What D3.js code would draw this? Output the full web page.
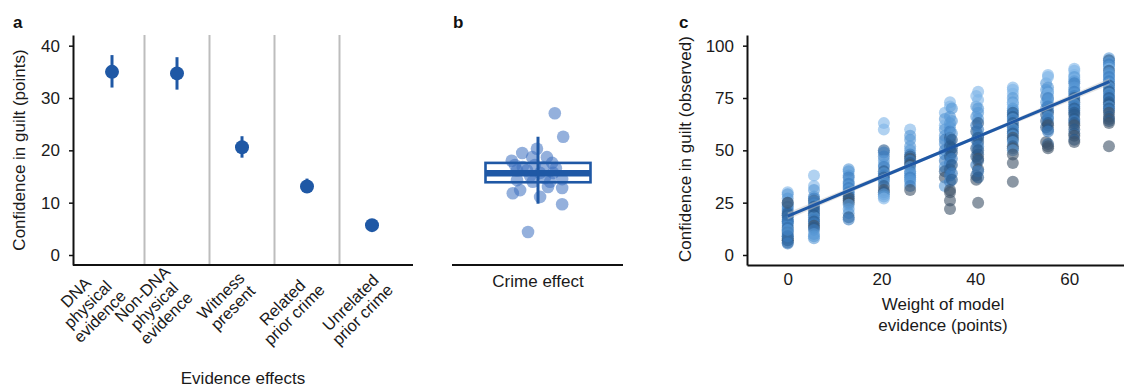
<!DOCTYPE html>
<html><head><meta charset="utf-8">
<script src="https://cdn.jsdelivr.net/npm/d3@7"></script>
<style>
body{margin:0;background:#fff}
svg{display:block;font-family:"Liberation Sans",Arial,Helvetica,sans-serif}
</style></head><body>
<svg id="chart" width="1124" height="387"></svg>
<script>
// ---------- Panel a: evidence effects ----------
const evidenceCategories = ["DNA\nphysical\nevidence", "Non-DNA\nphysical\nevidence", "Witness\npresent", "Related\nprior crime", "Unrelated\nprior crime"];
const evidenceMeans = [35.0, 34.7, 20.6, 13.1, 5.7];
const evidenceLow   = [32.0, 31.6, 18.6, 12.0, 5.0];
const evidenceHigh  = [38.2, 37.8, 22.7, 14.6, 6.4];
const effectTicks = [0, 10, 20, 30, 40];

// ---------- Panel b: crime effect ----------
const crimeJitter = [0.32,0.48,-0.19,0.46,0.46,0.46,-0.30,-0.02,-0.50,0.17,0.27,-0.48,-0.34,0.04,0.19,-0.10,-0.40,-0.21,0.10,0.29,-0.11,-0.29,-0.40,0.04,0.23,-0.15,0.13,-0.44,-0.06,0.34];
const crimeValues = [27.1,22.6,4.4,9.7,12.8,14.5,19.5,20.3,18.0,18.7,17.6,11.8,12.4,11.1,13.0,14.0,14.3,16.2,16.8,15.7,18.7,16.8,16.2,15.7,14.0,15.1,14.7,17.2,17.2,16.6];
const crimeBox = [13.9, 15.6, 17.6];   // q1, median, q3
const crimeCI = [9.8, 22.6];

// ---------- Panel c: model weight vs observed ----------
const modelWeights = [0, 5.6, 13, 20.5, 26.1, 33.5, 34.6, 35, 40.2, 40.6, 48, 55.1, 55.5, 61.1, 68.5];
// [observed confidence, shade group]
const observedByWeight = [
  [[30,0],[29,1],[27,1],[25,2],[24,1],[23,2],[22,1],[21,2],[20,3],[19,2],[18,1],[17,2],[16,3],[15,2],[14,1],[13,3],[12,2],[11,3],[10,2],[9,3],[8,3],[7,3],[7,4],[6,3],[5.5,2],[19,3],[16,2],[12,1],[9,2],[25,4]],
  [[38,0],[33,0],[31,1],[28,1],[26,4],[25,2],[24,1],[22,2],[21,3],[20,2],[19,3],[18,1],[17,2],[16,3],[15,2],[14,4],[13,3],[12,2],[10,1],[9,1],[8,1],[27,2],[23,3]],
  [[41,1],[40,1],[38,1],[37,2],[35,1],[34,2],[33,1],[32,2],[31,1],[30,2],[29,1],[28,3],[27,4],[26,3],[25,4],[24,1],[22,1],[20,1],[18,3],[17,2]],
  [[63,0],[60,0],[50,3],[49,2],[47,2],[45,1],[43,1],[42,2],[40,3],[39,1],[38,2],[37,3],[36,2],[35,1],[33,3],[31,4],[30,3],[29,1],[28,1],[27,0]],
  [[60,0],[57,1],[55,1],[52,1],[50,1],[48,2],[47,3],[46,4],[45,2],[44,3],[43,4],[42,1],[40,2],[39,1],[38,1],[37,2],[36,1],[35,1],[33,2],[31,4]],
  [[68,0],[65,1],[62,0],[60,1],[57,1],[55,2],[53,1],[50,2],[48,1],[45,2],[42,1],[40,3],[37,4],[33,1]],
  [[73,0],[71,0],[66,1],[63,1],[61,1],[59,2],[56,3],[54,2],[52,3],[50,2],[47,3],[44,2],[41,3],[38,2],[35,2],[31,4],[30,4],[26,4],[22,4]],
  [[70,1],[64,1],[58,1],[55,3],[51,3],[49,3],[46,2],[43,3],[39,2],[36,3]],
  [[76,0],[71,1],[66,1],[62,2],[59,3],[55,2],[51,3],[47,3],[43,2],[38,3],[36,4]],
  [[78,0],[74,0],[70,1],[68,1],[65,1],[63,3],[60,2],[57,2],[56,3],[54,3],[52,2],[50,3],[48,3],[46,4],[45,3],[41,4],[40,2],[37,3],[25,4]],
  [[80,0],[79,0],[77,0],[75,1],[73,1],[72,0],[70,1],[69,1],[68,3],[67,2],[66,3],[65,1],[64,2],[63,3],[62,2],[61,3],[60,1],[59,2],[58,3],[57,1],[56,4],[55,3],[54,1],[52,3],[51,4],[50,1],[48,4],[44,4],[35,4]],
  [[82,1],[79,1],[76,2],[73,1],[70,2],[67,3],[64,3],[61,3],[54,4]],
  [[86,0],[85,0],[80,1],[78,1],[77,0],[75,2],[74,1],[72,1],[71,2],[69,2],[68,3],[66,1],[65,2],[63,3],[62,4],[60,3],[59,2],[53,3],[52,4],[51,4]],
  [[89,0],[88,0],[86,0],[85,1],[84,0],[83,1],[82,2],[80,1],[79,1],[78,2],[77,1],[76,2],[75,3],[74,2],[73,3],[72,1],[71,2],[70,3],[69,2],[68,3],[67,3],[65,3],[64,2],[63,3],[62,4],[60,3],[58,3],[57,4],[55,3],[54,4]],
  [[94,1],[93,3],[92,1],[91,2],[90,1],[89,0],[88,3],[87,1],[86,1],[85,2],[84,1],[83,2],[82,1],[81,3],[80,1],[79,2],[78,3],[77,1],[76,2],[75,3],[74,2],[73,3],[72,3],[71,1],[70,3],[69,2],[68,4],[66,3],[65,4],[64,3],[63,4],[52,4]]
];
const fitX  = [0, 34, 68.6];
const fitY  = [18.6, 50.4, 82.8];
const fitLo = [16.9, 49.8, 81.2];
const fitHi = [20.3, 51.0, 84.4];
const observedTicks = [0, 25, 50, 75, 100];
const weightTicks = [0, 20, 40, 60];

// ---------- drawing ----------
const svg = d3.select("#chart");
const FS = 17;
const blue = "#1f58a5";
const shadeColors = ["#7db4e8", "#5697d6", "#3a7cbe", "#28598a", "#3d5167"];

function styleAxis(g) {
  g.select(".domain").attr("stroke", "#111").attr("stroke-width", 2);
  g.selectAll(".tick line").attr("stroke", "#111").attr("stroke-width", 1.5);
  g.selectAll(".tick text").attr("font-size", FS).attr("fill", "#1a1a1a").attr("font-family", "Liberation Sans, Arial, sans-serif");
}
function panelLabel(x, t) {
  svg.append("text").attr("x", x).attr("y", 28).attr("font-size", 17).attr("font-weight", "bold").attr("fill", "#111").text(t);
}

// Panel a
const yA = d3.scaleLinear().domain([-1.91, 42.04]).range([265, 35]);
const xA = d3.scaleBand().domain(d3.range(evidenceCategories.length)).range([79.5, 404.5]);
const gA = svg.append("g");
gA.selectAll("line.sep").data(d3.range(1, evidenceCategories.length)).join("line")
  .attr("class", "sep").attr("x1", i => xA(i)).attr("x2", i => xA(i))
  .attr("y1", 35).attr("y2", 265).attr("stroke", "#bdbdbd").attr("stroke-width", 2);
gA.append("g").attr("transform", "translate(73,0)")
  .call(d3.axisLeft(yA).tickValues(effectTicks).tickSize(4).tickSizeOuter(0).tickPadding(9)).call(styleAxis);
gA.append("line").attr("x1", 73).attr("x2", 413).attr("y1", 265).attr("y2", 265).attr("stroke", "#111").attr("stroke-width", 2);
const cxA = i => xA(i) + xA.bandwidth() / 2;
gA.selectAll("line.err").data(evidenceMeans).join("line").attr("class", "err")
  .attr("x1", (d, i) => cxA(i)).attr("x2", (d, i) => cxA(i))
  .attr("y1", (d, i) => yA(evidenceLow[i])).attr("y2", (d, i) => yA(evidenceHigh[i]))
  .attr("stroke", blue).attr("stroke-width", 3);
gA.selectAll("circle").data(evidenceMeans).join("circle")
  .attr("cx", (d, i) => cxA(i)).attr("cy", d => yA(d)).attr("r", 7).attr("fill", blue);
// rotated multi-line category labels (lines centred, block right edge / middle at the anchor)
const labelX = d3.scalePoint().domain(d3.range(evidenceCategories.length)).range([111, 384]);
const LBL = 16.5, LH = 17, C = Math.SQRT1_2;
evidenceCategories.forEach((lab, i) => {
  const lines = lab.split("\n");
  const ax = labelX(i), ay = 281;
  const texts = lines.map(ln => gA.append("text").attr("font-size", LBL).attr("fill", "#1a1a1a")
    .attr("text-anchor", "middle").text(ln));
  const maxW = d3.max(texts, t => t.node().getComputedTextLength());
  texts.forEach((t, j) => {
    const rx = -maxW / 2;
    const ry = (j - (lines.length - 1) / 2) * LH + 0.35 * LBL;
    const sx = ax + C * (rx + ry), sy = ay + C * (ry - rx);
    t.attr("transform", `translate(${sx.toFixed(2)},${sy.toFixed(2)}) rotate(-45)`);
  });
});
gA.append("text").attr("x", 243).attr("y", 384).attr("text-anchor", "middle").attr("font-size", FS).attr("fill", "#1a1a1a").text("Evidence effects");
gA.append("text").attr("transform", "translate(25,150) rotate(-90)").attr("text-anchor", "middle").attr("font-size", FS).attr("fill", "#1a1a1a").text("Confidence in guilt (points)");
panelLabel(13, "a");

// Panel b
const xB = d3.scaleLinear().domain([-1, 1]).range([485.5, 590.5]);
const yB = yA;
const gB = svg.append("g");
gB.selectAll("circle").data(crimeValues).join("circle")
  .attr("cx", (d, i) => xB(crimeJitter[i])).attr("cy", d => yB(d)).attr("r", 6.3)
  .attr("fill", "#3d70bf").attr("fill-opacity", 0.55);
gB.append("rect").attr("x", xB(-1)).attr("width", xB(1) - xB(-1))
  .attr("y", yB(crimeBox[2])).attr("height", yB(crimeBox[0]) - yB(crimeBox[2]))
  .attr("fill", "none").attr("stroke", blue).attr("stroke-width", 2.6);
gB.append("line").attr("x1", xB(-1)).attr("x2", xB(1)).attr("y1", yB(crimeBox[1])).attr("y2", yB(crimeBox[1]))
  .attr("stroke", blue).attr("stroke-width", 6.5);
gB.append("line").attr("x1", xB(0)).attr("x2", xB(0)).attr("y1", yB(crimeCI[0])).attr("y2", yB(crimeCI[1]))
  .attr("stroke", blue).attr("stroke-width", 3);
gB.append("line").attr("x1", 452).attr("x2", 623).attr("y1", 265).attr("y2", 265).attr("stroke", "#111").attr("stroke-width", 2);
gB.append("text").attr("x", xB(0)).attr("y", 287).attr("text-anchor", "middle").attr("font-size", FS).attr("fill", "#1a1a1a").text("Crime effect");
panelLabel(453, "b");

// Panel c
const xC = d3.scaleLinear().domain([-8.68, 71.7]).range([747, 1124]);
const yC = d3.scaleLinear().domain([-4.78, 105.1]).range([265, 35]);
const gC = svg.append("g");
const pts = [];
modelWeights.forEach((w, k) => observedByWeight[k].forEach(p => pts.push({w, v: p[0], s: p[1]})));
gC.selectAll("circle").data(pts).join("circle")
  .attr("cx", d => xC(d.w)).attr("cy", d => yC(d.v)).attr("r", 6)
  .attr("fill", d => shadeColors[d.s]).attr("fill-opacity", 0.6);
const band = d3.area().x((d, i) => xC(fitX[i])).y0((d, i) => yC(fitLo[i])).y1((d, i) => yC(fitHi[i]));
gC.append("path").attr("d", band(fitX)).attr("fill", "#c8c8c8").attr("fill-opacity", 0.5);
gC.append("path").attr("d", d3.line().x((d, i) => xC(fitX[i])).y((d, i) => yC(fitY[i]))(fitX))
  .attr("fill", "none").attr("stroke", blue).attr("stroke-width", 3);
gC.append("g").attr("transform", "translate(747,0)")
  .call(d3.axisLeft(yC).tickValues(observedTicks).tickSize(4).tickSizeOuter(0).tickPadding(9)).call(styleAxis);
gC.append("g").attr("transform", "translate(0,265)")
  .call(d3.axisBottom(xC).tickValues(weightTicks).tickSize(0).tickSizeOuter(0).tickPadding(8)).call(styleAxis);
gC.append("text").attr("x", 943).attr("text-anchor", "middle").attr("font-size", FS).attr("fill", "#1a1a1a")
  .call(t => { t.append("tspan").attr("x", 943).attr("y", 310).text("Weight of model");
               t.append("tspan").attr("x", 943).attr("y", 331).text("evidence (points)"); });
gC.append("text").attr("transform", "translate(691,149) rotate(-90)").attr("text-anchor", "middle").attr("font-size", FS).attr("fill", "#1a1a1a").text("Confidence in guilt (observed)");
panelLabel(679, "c");
</script>
</body></html>
